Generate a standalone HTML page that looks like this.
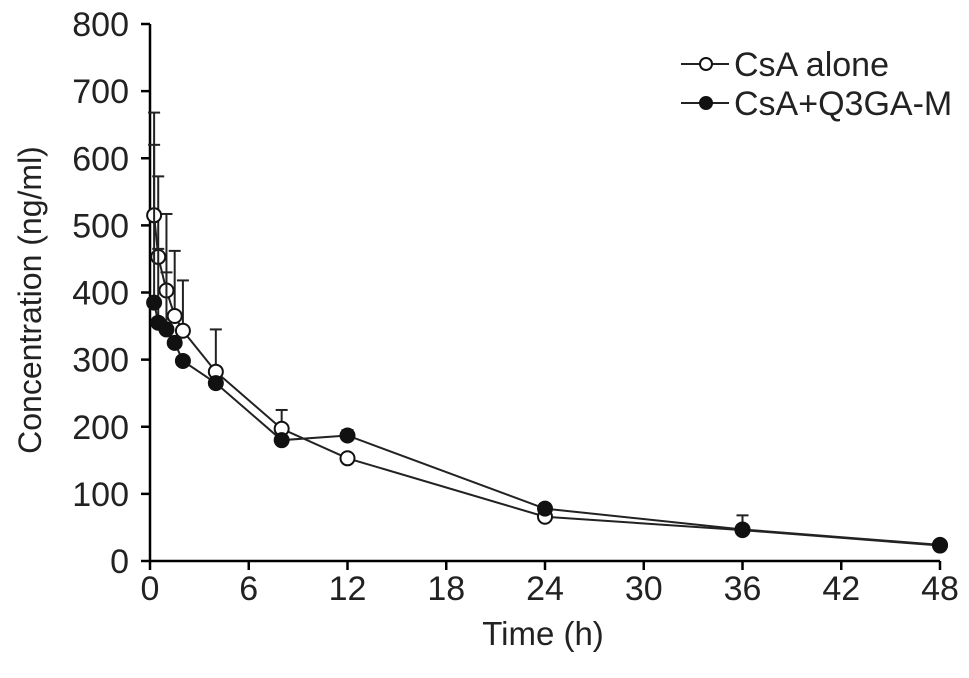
<!DOCTYPE html>
<html><head><meta charset="utf-8"><style>
body{margin:0;background:#fff}
svg{display:block;font-family:"Liberation Sans",Arial,sans-serif}
</style></head><body>
<svg id="c" width="969" height="678" viewBox="0 0 969 678"></svg>
<script>
const times=[0.25,0.5,1,1.5,2,4,8,12,24,36,48];
const aloneVals=[515,453,403,365,343,282,197,153,66,46,23];
const aloneSD=[153,120,114,97,75,63,28,0,0,0,0];
const mVals=[385,355,345,325,298,265,180,187,78,47,24];
const mSD=[235,110,85,0,0,0,0,8,7,21,0];
const xTicks=[0,6,12,18,24,30,36,42,48];
const yTicks=[0,100,200,300,400,500,600,700,800];
const NS="http://www.w3.org/2000/svg";
const svg=document.getElementById('c');
const X0=150,X1=940,Y0=561,Y1=24;
const xs=t=>X0+t/48*(X1-X0);
const ys=v=>Y0-v/800*(Y0-Y1);
function mk(tag,a,parent){const e=document.createElementNS(NS,tag);for(const k in a)e.setAttribute(k,a[k]);(parent||svg).appendChild(e);return e;}
const ax=mk('g',{stroke:'#000','stroke-width':2.5,fill:'none'});


mk('line',{x1:X0,y1:Y1,x2:X0,y2:Y0+1},ax);
mk('line',{x1:X0-1,y1:Y0,x2:X1,y2:Y0},ax);
yTicks.forEach(v=>{
 mk('line',{x1:X0-9,y1:ys(v),x2:X0,y2:ys(v)},ax);
 const t=mk('text',{x:129,y:ys(v)+12,'text-anchor':'end','font-size':34,fill:'#222'});
 t.textContent=v;
 
 
});
xTicks.forEach(v=>{
 mk('line',{x1:xs(v),y1:Y0,x2:xs(v),y2:Y0+9},ax);
 const t=mk('text',{x:xs(v),y:600,'text-anchor':'middle','font-size':34,fill:'#222'});
 t.textContent=v;
 
 
});
const xt=mk('text',{x:543,y:645,'text-anchor':'middle','font-size':33,fill:'#222'});
xt.textContent='Time (h)';


const yt=mk('text',{x:0,y:0,'text-anchor':'middle','font-size':32,fill:'#222',transform:'translate(41,300) rotate(-90)'});
yt.textContent='Concentration (ng/ml)';


function series(vals,sd,fill,name){
 const g=mk('g',{});
 
 
 times.forEach((t,i)=>{if(sd[i]>0){
  mk('line',{x1:xs(t),y1:ys(vals[i]),x2:xs(t),y2:ys(vals[i]+sd[i]),stroke:'#222','stroke-width':2},g);
  mk('line',{x1:xs(t)-6,y1:ys(vals[i]+sd[i]),x2:xs(t)+6,y2:ys(vals[i]+sd[i]),stroke:'#222','stroke-width':2},g);}});
 mk('polyline',{points:times.map((t,i)=>xs(t)+','+ys(vals[i])).join(' '),fill:'none',stroke:'#222','stroke-width':2},g);
 times.forEach((t,i)=>{const c=mk('circle',{cx:xs(t),cy:ys(vals[i]),r:7,fill:fill,stroke:'#111','stroke-width':2},g);
  
  });
}
series(aloneVals,aloneSD,'#fff','series-csa-alone');
series(mVals,mSD,'#111','series-csa-q3ga-m');
[['CsA alone','#fff',64],['CsA+Q3GA-M','#111',103]].forEach(([lab,f,y])=>{
 const g=mk('g',{});
 
 
 mk('line',{x1:681,y1:y,x2:729,y2:y,stroke:'#222','stroke-width':2},g);
 mk('circle',{cx:706,cy:y,r:6,fill:f,stroke:'#111','stroke-width':2},g);
 const t=mk('text',{x:734,y:y+12,'font-size':34,fill:'#222'},g);
 t.textContent=lab;
});
</script>
</body></html>
